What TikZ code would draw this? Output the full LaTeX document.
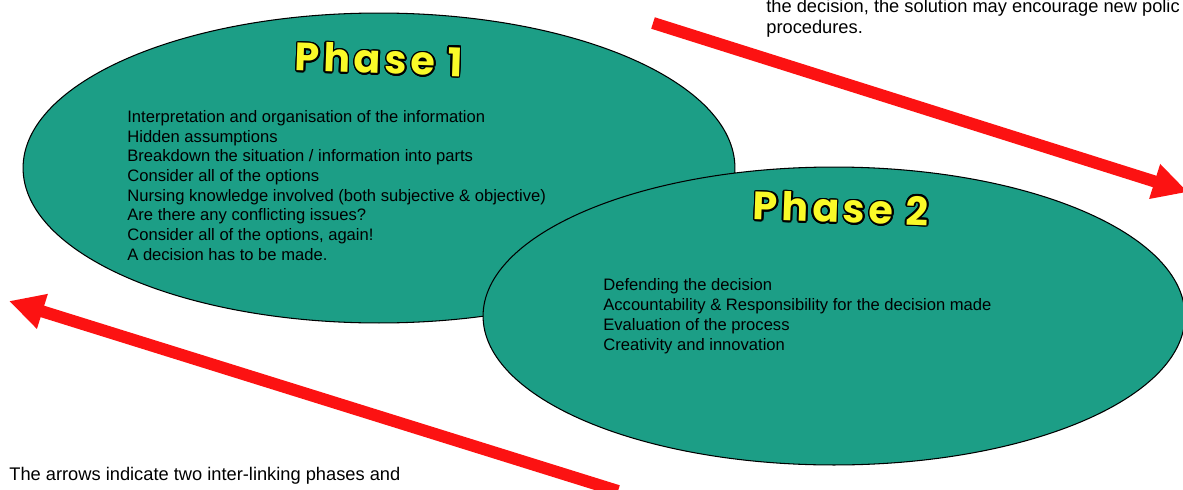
\documentclass[tikz,border=0pt]{standalone}
\usepackage{fontspec}
\setmainfont{Liberation Sans}
\newfontfamily\titlefont[LetterSpace=10]{Poppins}
\usepackage{contour}
\contourlength{0.9pt}
\usetikzlibrary{arrows.meta,shapes.geometric}
\definecolor{phasegreen}{RGB}{28,158,134}
\definecolor{arrowred}{RGB}{252,18,18}
\definecolor{titleyellow}{RGB}{250,250,40}

\begin{document}
\begin{tikzpicture}[x=0.02cm,y=-0.02cm,
  phase/.style={ellipse, draw=black, line width=0.6pt, fill=phasegreen, inner sep=0pt},
  phasetitle/.style={inner sep=0pt, rotate=-2, font=\titlefont\bfseries\fontsize{22.5pt}{24pt}\selectfont},
  % multi-line nodes are anchored at the baseline of their last line
  listtext/.style={inner sep=0pt, anchor=base west, align=left, text=black,
    font=\fontsize{9.44pt}{11.22pt}\selectfont},
  notetext/.style={inner sep=0pt, anchor=base west, align=left, text=black,
    font=\fontsize{10.4pt}{11.9pt}\selectfont},
  bigarrow/.style={draw=arrowred, line width=0.24cm,
    -{Triangle[length=0.7cm,width=0.68cm]}}]

\useasboundingbox (0,0) rectangle (1183,490);
\clip (0,0) rectangle (1183,490);

% the two phases
\node[phase, minimum width=14.24cm, minimum height=6.2cm] (p1) at (379,168) {};
\node[phase, minimum width=14.04cm, minimum height=5.96cm] (p2) at (834,316) {};

\node[phasetitle] (t1) at (379,60) {\contour{black}{\textcolor{titleyellow}{Phase 1}}};
\node[phasetitle] (t2) at (841,209) {\contour{black}{\textcolor{titleyellow}{Phase 2}}};

\node[listtext] (l1) at (127,260.3) {Interpretation and organisation of the information\\
Hidden assumptions\\
Breakdown the situation / information into parts\\
Consider all of the options\\
Nursing knowledge involved (both subjective \& objective)\\
Are there any conflicting issues?\\
Consider all of the options, again!\\
A decision has to be made.};

\node[listtext] (l2) at (603,350.1) {Defending the decision\\
Accountability \& Responsibility for the decision made\\
Evaluation of the process\\
Creativity and innovation};

% notes
\node[notetext] (n1) at (766,33.3) {the decision, the solution may encourage new polic\\procedures.};
\node[notetext] (n2) at (9,480) {The arrows indicate two inter-linking phases and};

% linking arrows
\coordinate (a1s) at (653,23);
\coordinate (a1e) at (1188,192);
\coordinate (a2s) at (618,491);
\coordinate (a2e) at (9,301);
\draw[bigarrow] (a1s) -- (a1e);
\draw[bigarrow] (a2s) -- (a2e);
\end{tikzpicture}
\end{document}
